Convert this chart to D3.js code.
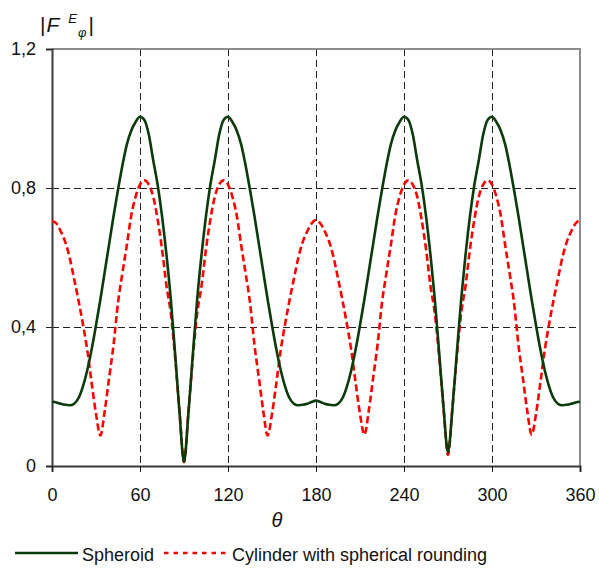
<!DOCTYPE html>
<html>
<head>
<meta charset="utf-8">
<script src="https://cdn.jsdelivr.net/npm/d3@7"></script>
<style>
	body { margin: 0; background: #fff; }
	svg { display: block; font-family: "Liberation Sans", Arial, sans-serif; }
</style>
</head>
<body>
<svg id="chart" width="599" height="571"></svg>
<script>
/* Far-field pattern |F^E_phi| vs theta, two bodies compared. */

// angles, 3 degree steps 0..360
var theta = d3.range(0, 361, 3);

// spheroid (solid dark green)
var spheroid = [
	0.185, 0.183, 0.179, 0.176, 0.175, 0.179, 0.195, 0.228, 0.275, 0.335,
	0.405, 0.480, 0.560, 0.640, 0.720, 0.795, 0.865, 0.925, 0.965, 0.990,
	1.005, 0.996, 0.954, 0.880, 0.810, 0.720, 0.610, 0.480, 0.320, 0.150,
	0.012, 0.150, 0.320, 0.480, 0.610, 0.720, 0.810, 0.880, 0.954, 0.996,
	1.005, 0.990, 0.965, 0.925, 0.865, 0.795, 0.720, 0.640, 0.560, 0.480,
	0.405, 0.335, 0.275, 0.228, 0.195, 0.179, 0.175, 0.176, 0.179, 0.184,
	0.188, 0.184, 0.179, 0.176, 0.175, 0.179, 0.195, 0.228, 0.275, 0.335,
	0.405, 0.480, 0.560, 0.640, 0.720, 0.795, 0.865, 0.925, 0.965, 0.990,
	1.005, 0.996, 0.954, 0.880, 0.810, 0.720, 0.610, 0.480, 0.325, 0.165,
	0.040, 0.165, 0.325, 0.480, 0.610, 0.720, 0.810, 0.880, 0.954, 0.996,
	1.005, 0.990, 0.965, 0.925, 0.865, 0.795, 0.720, 0.640, 0.560, 0.480,
	0.405, 0.335, 0.275, 0.228, 0.195, 0.179, 0.175, 0.176, 0.179, 0.183,
	0.185
];

// cylinder with spherical rounding (red dashed)
var cylinder = [
	0.705, 0.698, 0.675, 0.645, 0.600, 0.540, 0.478, 0.410, 0.335, 0.240,
	0.150, 0.088, 0.160, 0.255, 0.350, 0.470, 0.555, 0.635, 0.720, 0.775,
	0.810, 0.822, 0.810, 0.775, 0.710, 0.625, 0.520, 0.440, 0.310, 0.155,
	0.012, 0.155, 0.310, 0.440, 0.520, 0.625, 0.710, 0.775, 0.810, 0.822,
	0.810, 0.775, 0.720, 0.635, 0.555, 0.470, 0.350, 0.255, 0.160, 0.088,
	0.150, 0.240, 0.335, 0.410, 0.478, 0.540, 0.600, 0.645, 0.675, 0.698,
	0.708, 0.698, 0.675, 0.645, 0.600, 0.540, 0.478, 0.410, 0.335, 0.240,
	0.150, 0.090, 0.160, 0.255, 0.350, 0.470, 0.555, 0.635, 0.720, 0.775,
	0.810, 0.822, 0.810, 0.775, 0.710, 0.625, 0.520, 0.440, 0.315, 0.165,
	0.032, 0.165, 0.315, 0.440, 0.520, 0.625, 0.710, 0.775, 0.810, 0.822,
	0.810, 0.775, 0.720, 0.635, 0.555, 0.470, 0.350, 0.255, 0.160, 0.090,
	0.150, 0.240, 0.335, 0.410, 0.478, 0.540, 0.600, 0.645, 0.675, 0.698,
	0.708
];

var xTicks = [0, 60, 120, 180, 240, 300, 360];
var yTicks = [0, 0.4, 0.8, 1.2];
var yTickLabels = ['0', '0,4', '0,8', '1,2'];
var seriesNames = ['Spheroid', 'Cylinder with spherical rounding'];

var svg = d3.select('#chart');
var x = d3.scaleLinear().domain([0, 360]).range([52, 580]);
var y = d3.scaleLinear().domain([0, 1.2]).range([466, 49]);

var green = '#0b3a0b';
var red = '#ff0000';

// gridlines
var grid = svg.append('g')
	.attr('stroke', '#222')
	.attr('stroke-width', 1)
	.attr('stroke-dasharray', '7,4');
grid.selectAll('line.v')
	.data(xTicks.filter(function(d) { return d > 0 && d < 360; }))
	.enter().append('line')
		.attr('x1', function(d) { return x(d) + 0.5; })
		.attr('x2', function(d) { return x(d) + 0.5; })
		.attr('y1', y(1.2))
		.attr('y2', y(0));
grid.selectAll('line.h')
	.data(yTicks.filter(function(d) { return d > 0 && d < 1.2; }))
	.enter().append('line')
		.attr('x1', x(0))
		.attr('x2', x(360))
		.attr('y1', function(d) { return y(d) + 0.5; })
		.attr('y2', function(d) { return y(d) + 0.5; });

// top / right frame
svg.append('path')
	.attr('d', 'M' + x(0) + ',' + y(1.2) + 'H' + x(360) + 'V' + y(0))
	.attr('fill', 'none')
	.attr('stroke', '#8c8c8c')
	.attr('stroke-width', 2);

// axes
var yAxis = d3.axisLeft(y)
	.tickValues(yTicks)
	.tickSize(6)
	.tickPadding(10)
	.tickFormat(function(d, i) { return yTickLabels[i]; });
var gy = svg.append('g')
	.attr('transform', 'translate(' + x(0) + ',0)')
	.call(yAxis);

var xAxis = d3.axisBottom(x)
	.tickValues(xTicks)
	.tickSize(6)
	.tickPadding(16);
var gx = svg.append('g')
	.attr('transform', 'translate(0,' + y(0) + ')')
	.call(xAxis);

[gx, gy].forEach(function(g) {
	g.select('.domain').attr('stroke', '#3a3a3a').attr('stroke-width', 2);
	g.selectAll('.tick line').attr('stroke', '#222').attr('stroke-width', 1);
	g.selectAll('.tick text')
		.attr('fill', '#111')
		.style('font-size', '18px')
		.style('font-family', '"Liberation Sans", Arial, sans-serif');
});

// series
var line = d3.line()
	.x(function(d) { return x(d[0]); })
	.y(function(d) { return y(d[1]); })
	.curve(d3.curveMonotoneX);

svg.append('path')
	.datum(d3.zip(theta, cylinder))
	.attr('d', line)
	.attr('fill', 'none')
	.attr('stroke', red)
	.attr('stroke-width', 2.6)
	.attr('stroke-dasharray', '7,3.5');

svg.append('path')
	.datum(d3.zip(theta, spheroid))
	.attr('d', line)
	.attr('fill', 'none')
	.attr('stroke', green)
	.attr('stroke-width', 2.6);

// axis titles
svg.append('text')
	.attr('x', 277)
	.attr('y', 527)
	.attr('text-anchor', 'middle')
	.style('font-size', '20px')
	.style('font-style', 'italic')
	.attr('fill', '#111')
	.text('θ');

var yt = svg.append('text')
	.attr('x', 40)
	.attr('y', 32)
	.attr('fill', '#111')
	.style('font-size', '21px');
yt.append('tspan').text('|');
yt.append('tspan').style('font-style', 'italic').attr('dx', 1).text('F');
yt.append('tspan').style('font-style', 'italic').style('font-size', '13px')
	.attr('dx', 9).attr('dy', -9).text('E');
yt.append('tspan').style('font-style', 'italic').style('font-size', '13px')
	.attr('dx', 1).attr('dy', 14).text('φ');
yt.append('tspan').attr('dx', 2).attr('dy', -5).text('|');

// legend
var legend = svg.append('g').style('font-size', '18px').attr('fill', '#111');
legend.append('line')
	.attr('x1', 15).attr('x2', 78).attr('y1', 553).attr('y2', 553)
	.attr('stroke', green).attr('stroke-width', 2.6);
legend.append('text').attr('x', 82).attr('y', 561).text(seriesNames[0]);
legend.append('line')
	.attr('x1', 164).attr('x2', 230).attr('y1', 553).attr('y2', 553)
	.attr('stroke', red).attr('stroke-width', 2.6)
	.attr('stroke-dasharray', '4.5,5');
legend.append('text').attr('x', 232).attr('y', 561).text(seriesNames[1]);
</script>
</body>
</html>
